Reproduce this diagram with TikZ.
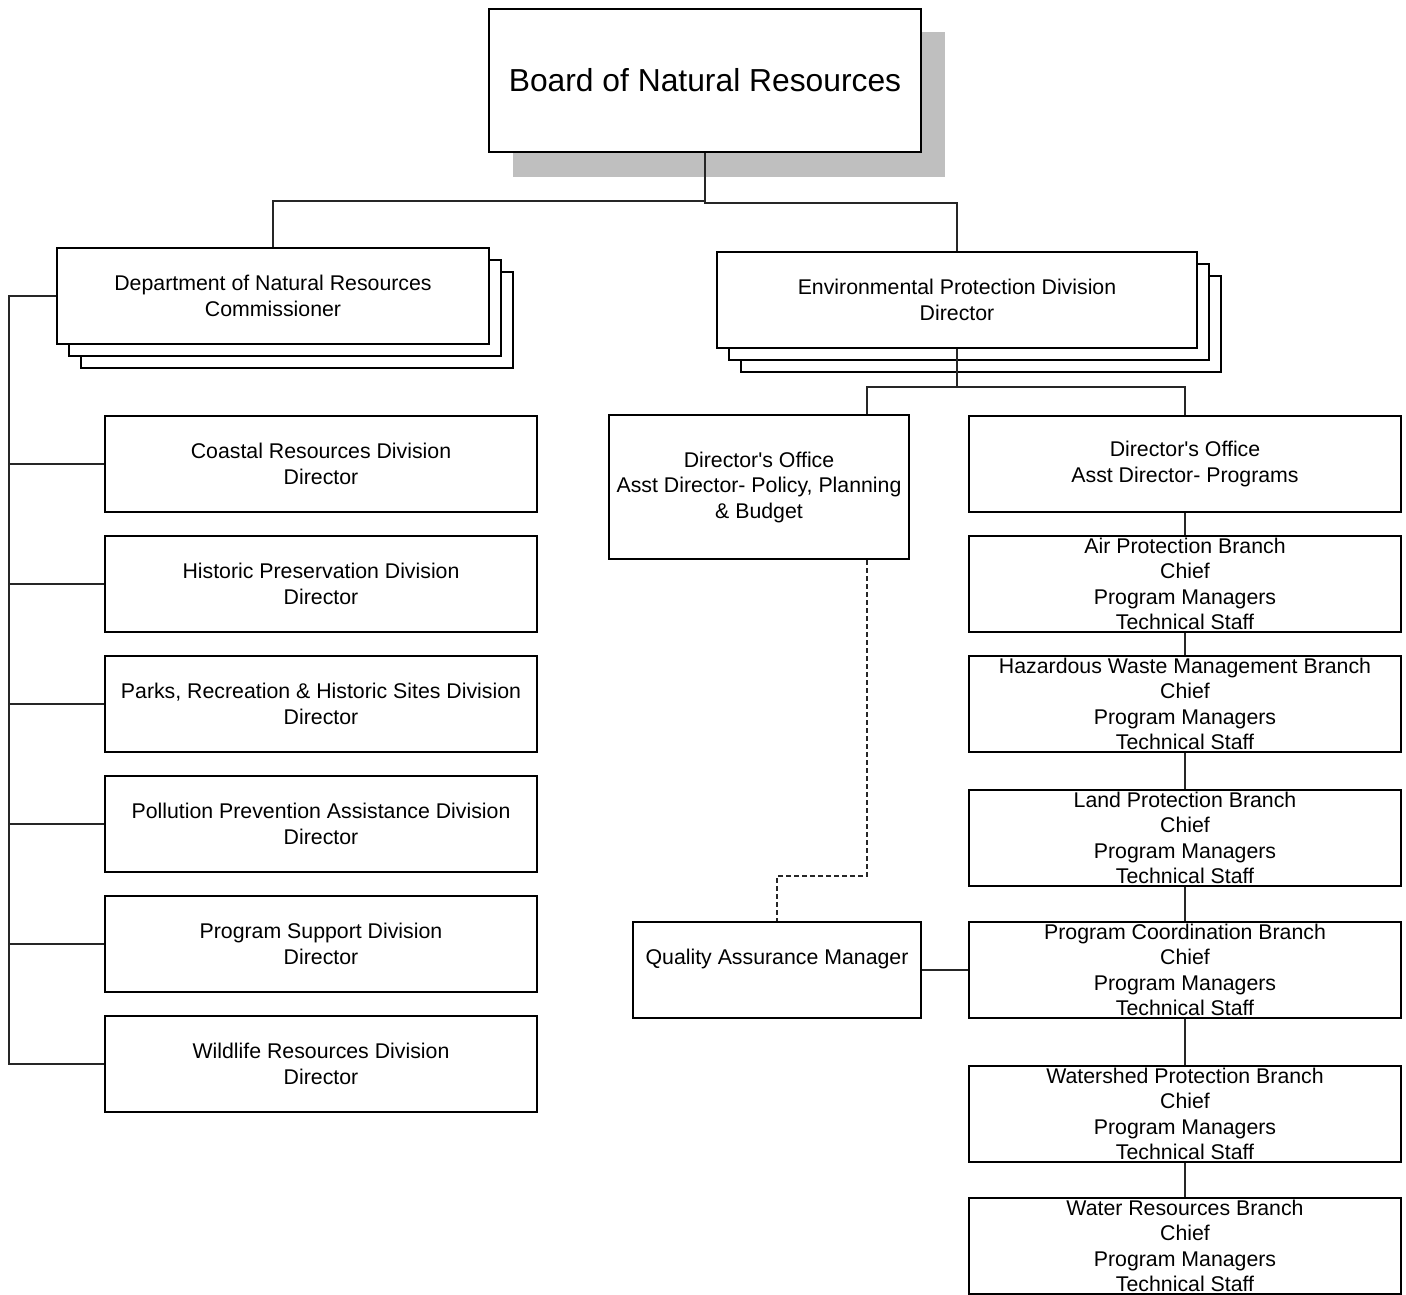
\documentclass[tikz,border=0pt]{standalone}
\usepackage{fontspec}
\setmainfont{Liberation Sans}[Ligatures=TeXOff]
\begin{document}
\begin{tikzpicture}[x=0.5pt,y=-0.5pt,
  box/.style={draw=black, line width=1pt, fill=white, inner sep=0pt, align=center,
    font=\fontsize{10.65}{12.75}\selectfont},
  wide/.style={box, minimum width=216pt, minimum height=48pt},
  epdbox/.style={box, minimum width=240pt, minimum height=48pt},
  conn/.style={line width=0.6pt, draw=black!85},
  dashconn/.style={conn, dash pattern=on 2.5pt off 1.5pt},
]
\useasboundingbox (0,0) rectangle (1406,1294);
% board with shadow
\fill[black!25] (513,32) rectangle (945,177);
\node[box, minimum width=216pt, minimum height=71.5pt, font=\fontsize{15.9}{19}\selectfont] (board) at (705,80.5) {Board of Natural Resources};

% DNR stack
\node[wide] (dnrC) at (297,320) {};
\node[wide] (dnrB) at (285,308) {};
\node[wide] (dnr) at (273,296) {Department of Natural Resources\\Commissioner};

% EPD stack
\node[epdbox] (epdC) at (981,324) {};
\node[epdbox] (epdB) at (969,312) {};
\node[epdbox] (epd) at (957,300) {Environmental Protection Division\\Director};

% left divisions
\node[wide] (coast) at (321,464) {Coastal Resources Division\\Director};
\node[wide] (hist) at (321,584) {Historic Preservation Division\\Director};
\node[wide] (parks) at (321,704) {Parks, Recreation \& Historic Sites Division\\Director};
\node[wide] (poll) at (321,824) {Pollution Prevention Assistance Division\\Director};
\node[wide] (prog) at (321,944) {Program Support Division\\Director};
\node[wide] (wild) at (321,1064) {Wildlife Resources Division\\Director};

% director's offices
\node[box, minimum width=150pt, minimum height=72pt] (dppb) at (759,487) {Director's Office\\Asst Director- Policy, Planning\\\& Budget};
\node[wide] (dop) at (1185,464) {\raisebox{0pt}[\height][0pt]{Director's Office}\\Asst Director- Programs};

% branches
\node[wide] (air) at (1185,584) {Air Protection Branch\\Chief\\Program Managers\\Technical Staff};
\node[wide] (haz) at (1185,704) {Hazardous Waste Management Branch\\Chief\\Program Managers\\Technical Staff};
\node[wide] (land) at (1185,838) {Land Protection Branch\\Chief\\Program Managers\\Technical Staff};
\node[wide] (pcb) at (1185,970) {Program Coordination Branch\\Chief\\Program Managers\\Technical Staff};
\node[wide] (wsp) at (1185,1114) {Watershed Protection Branch\\Chief\\Program Managers\\Technical Staff};
\node[wide] (wrb) at (1185,1246) {Water Resources Branch\\Chief\\Program Managers\\Technical Staff};

% QAM
\node[box, minimum width=144pt, minimum height=48pt] (qam) at (777,970) {Quality Assurance Manager\\\mbox{}};

% connectors
\draw[conn] (board.south) -- ++(0,48) -| (dnr.north);
\draw[conn] (board.south) -- ++(0,50) -| (epd.north);

\coordinate (spine) at (9,296);
\draw[conn] (dnr.west) -- (spine) |- (wild.west);
\foreach \n in {coast,hist,parks,poll,prog}{
  \draw[conn] (\n.west) -- (\n.west -| spine);
}

\draw[conn] (epd.south) -- ++(0,38) -| ([xshift=54pt]dppb.north);
\draw[conn] (epd.south) -- ++(0,38) -| (dop.north);

\draw[conn] (dop.south) -- (air.north);
\draw[conn] (air.south) -- (haz.north);
\draw[conn] (haz.south) -- (land.north);
\draw[conn] (land.south) -- (pcb.north);
\draw[conn] (pcb.south) -- (wsp.north);
\draw[conn] (wsp.south) -- (wrb.north);

\draw[dashconn] ([xshift=54pt]dppb.south) -- ++(0,316) -| (qam.north);
\draw[conn] (qam.east) -- (pcb.west);
\end{tikzpicture}
\end{document}
